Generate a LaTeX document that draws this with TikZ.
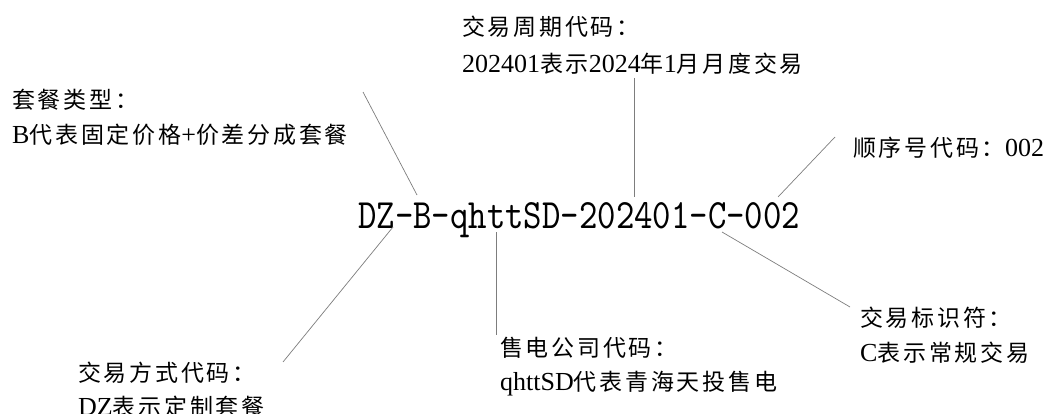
\documentclass[tikz,border=0pt]{standalone}
\usepackage{fontspec}
\setmainfont{Liberation Serif}
\newfontfamily\cjk[LetterSpace=12]{Noto Sans CJK SC}
\newcommand\zh[1]{{\cjk\fontsize{23}{23}\selectfont #1}}
\definecolor{leadgray}{RGB}{125,125,125}
\begin{document}
\begin{tikzpicture}[x=1pt,y=-1pt,
  lbl/.style={anchor=base west, inner sep=0pt, font=\fontsize{26}{26}\selectfont},
  lead/.style={draw=leadgray, line width=0.7pt}]
\useasboundingbox (0,0) rectangle (1043,414);
\clip (0,0) rectangle (1043,414);
% main code
\node[anchor=base west, inner sep=0pt] (code) at (358,228)
  {\resizebox{442pt}{26pt}{\ttfamily DZ-B-qhttSD-202401-C-002}};
% labels
\node[lbl] (per1) at (462,36) {\zh{交易周期代码：}};
\node[lbl] (per2) at (462,73) {202401\zh{表示}2024\zh{年}1\zh{月月度交易}};
\node[lbl] (pkg1) at (12,109) {\zh{套餐类型：}};
\node[lbl] (pkg2) at (12,144) {B\zh{代表固定价格}+\zh{价差分成套餐}};
\node[lbl] (seq1) at (853,157) {\zh{顺序号代码：}002};
\node[lbl] (way1) at (78,381) {\zh{交易方式代码：}};
\node[lbl] (way2) at (78,415) {DZ\zh{表示定制套餐}};
\node[lbl] (com1) at (500,356) {\zh{售电公司代码：}};
\node[lbl] (com2) at (500,390) {qhttSD\zh{代表青海天投售电}};
\node[lbl] (typ1) at (860,326) {\zh{交易标识符：}};
\node[lbl] (typ2) at (860,361) {C\zh{表示常规交易}};
% leader end points
\coordinate (pkgA) at (363,92);  \coordinate (pkgB) at (417,195);
\coordinate (perA) at (634,78);  \coordinate (perB) at (634,197);
\coordinate (seqA) at (835,137); \coordinate (seqB) at (778,197);
\coordinate (wayA) at (393,227); \coordinate (wayB) at (283,362);
\coordinate (comA) at (496,232); \coordinate (comB) at (496,335);
\coordinate (typA) at (722,232); \coordinate (typB) at (850,307);
\draw[lead] (pkgA) -- (pkgB);
\draw[lead] (perA) -- (perB);
\draw[lead] (seqA) -- (seqB);
\draw[lead] (wayA) -- (wayB);
\draw[lead] (comA) -- (comB);
\draw[lead] (typA) -- (typB);
\end{tikzpicture}
\end{document}
